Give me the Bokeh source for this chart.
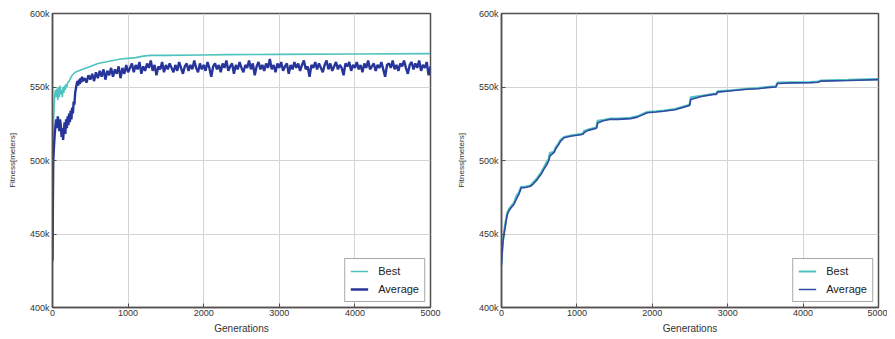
from bokeh.plotting import figure
from bokeh.layouts import row
from bokeh.models import Range1d, FixedTicker, PrintfTickFormatter
from bokeh.embed import file_html
from bokeh.resources import INLINE

# ---------------- data (fitness in thousands of meters) ----------------
x_ticks = [0, 1000, 2000, 3000, 4000, 5000]
y_ticks = [400, 450, 500, 550, 600]
series_names = ["Best", "Average"]

# Left chart: Best
gen_best_l = [0, 5, 10, 20, 30, 40, 50, 60, 70, 80, 90, 100, 110, 120, 130, 140, 150,
              160, 170, 180, 190, 200, 220, 240, 260, 280, 300, 350, 400, 500, 600, 700,
              800, 900, 1000, 1100, 1200, 1300, 1500, 2000, 2300, 3000, 4000, 5000]
best_l = [430, 500, 520, 535, 545, 548, 543, 549, 541, 550, 543, 551, 545, 548, 543, 550,
          546, 551, 548, 552, 550, 553, 554, 556, 558, 559, 560, 561, 562, 564, 566, 567,
          568, 569, 569.5, 570, 571, 571.5, 571.5, 571.8, 572, 572.2, 572.5, 572.7]

# Left chart: Average (sampled generations)
gen_avg_l = [0, 5, 10] + list(range(20, 401, 10)) + list(range(425, 5001, 25))
avg_early_l = [432, 470, 500, 510, 518, 524, 528, 522, 530, 526, 520, 528, 524, 516, 522,
               514, 520, 526, 518, 528, 522, 530, 524, 532, 526, 534, 528, 536, 532, 540,
               538, 546, 549, 552, 554, 551, 555, 552, 556, 553, 557, 554]
avg_mid_l = [556, 553, 558, 555, 559, 554, 560, 556, 561, 557, 562, 555, 561, 558, 563,
             557, 562, 559, 564, 556, 563, 559, 565, 560]
avg_late_l = [
    563, 566, 560, 565, 562, 567, 559, 564, 561, 566,
    563, 568, 561, 565, 558, 564, 562, 567, 560, 565,
    562, 566, 563, 560, 565, 561, 567, 563, 559, 564,
    566, 561, 565, 562, 568, 563, 560, 566, 562, 565,
    561, 567, 563, 557, 564, 566, 562, 565, 560, 566,
    563, 568, 561, 564, 566, 559, 565, 562, 567, 563,
    560, 565, 563, 568, 562, 566, 558, 564, 567, 562,
    565, 561, 566, 563, 569, 562, 565, 560, 566, 563,
    567, 561, 564, 566, 559, 565, 562, 567, 563, 566,
    561, 565, 568, 562, 564, 557, 565, 563, 567, 562,
    566, 563, 560, 565, 568, 562, 566, 561, 564, 567,
    562, 565, 563, 558, 566, 564, 567, 561, 565, 563,
    567, 562, 565, 560, 566, 563, 568, 562, 564, 566,
    561, 565, 563, 567, 562, 557, 565, 566, 563, 568,
    562, 565, 561, 566, 564, 568, 563, 559, 565, 567,
    562, 566, 563, 568, 561, 565, 563, 567, 558, 564,
]
avg_l = avg_early_l + avg_mid_l + avg_late_l

# Right chart
gen_r = [0, 10, 20, 31, 50, 75, 100, 130, 163, 200, 230, 252, 260, 300, 385, 420, 473, 500,
         530, 561, 600, 628, 640, 697, 720, 760, 782, 830, 915, 980, 1048, 1085, 1095, 1150,
         1225, 1260, 1275, 1350, 1446, 1550, 1711, 1800, 1932, 2050, 2150, 2300, 2463, 2495,
         2510, 2650, 2816, 2850, 2865, 3050, 3258, 3400, 3523, 3640, 3660, 3850, 4098, 4200,
         4231, 4600, 5000]
best_r = [430, 440, 446, 450, 457, 464, 467, 469, 471, 476, 478, 481, 482, 482, 483, 485,
          488, 490, 492, 495, 499, 501, 505, 506, 509, 512, 514, 516, 517, 517.5, 518, 518.5,
          520, 521, 522, 522.5, 527, 527.5, 528.5, 528.5, 529, 530, 533, 533.5, 534, 535,
          537.4, 538, 543, 544, 545.4, 545.5, 547, 547.8, 548.8, 549.2, 550, 550.5, 553,
          553.2, 553.3, 553.6, 554.4, 554.8, 555.3]
avg_r = [429, 438, 445, 449, 455, 463, 466, 468, 470, 474, 477, 480, 481.5, 481.5, 482.5,
         484, 487, 489, 491, 494, 497, 500, 503, 505.5, 508, 511, 513, 515.5, 516.5, 517,
         517.5, 518, 519, 520.5, 521.5, 522, 525.5, 527, 528, 528, 528.5, 529.5, 532.5, 533,
         533.5, 534.5, 537, 537.5, 541.5, 543.5, 545, 545, 546.5, 547.5, 548.5, 548.8, 549.6,
         550, 552.4, 552.8, 553, 553.2, 554, 554.4, 555]

BEST_C = "#4fc3bf"
AVG_C = "#27359a"
AVG_C_R = "#2f4ba3"
FONT = "Liberation Sans"
FRAME_C = "#555050"


def make_fig(fw, bl, br):
    p = figure(frame_width=fw, frame_height=294, x_range=Range1d(0, 5000), y_range=Range1d(400, 600),
               output_backend="svg", toolbar_location=None,
               min_border_left=bl, min_border_right=br, min_border_top=13, min_border_bottom=30,
               x_axis_label="Generations", y_axis_label="Fitness[meters]")
    p.outline_line_color = FRAME_C
    p.outline_line_width = 1.5
    p.background_fill_color = "white"
    p.border_fill_color = "white"
    for ax in (p.xaxis[0], p.yaxis[0]):
        ax.axis_line_color = FRAME_C
        ax.axis_line_width = 1.5
        ax.major_tick_in = 4
        ax.major_tick_out = 0
        ax.major_tick_line_color = FRAME_C
        ax.minor_tick_line_color = None
        ax.major_label_text_font = FONT
        ax.major_label_text_font_size = "9px"
        ax.major_label_text_color = "#333333"
        ax.axis_label_text_font = FONT
        ax.axis_label_text_font_style = "normal"
        ax.axis_label_text_color = "#333333"
    p.xaxis[0].ticker = FixedTicker(ticks=x_ticks)
    p.yaxis[0].ticker = FixedTicker(ticks=y_ticks)
    p.yaxis[0].formatter = PrintfTickFormatter(format="%dk")
    p.xaxis[0].major_label_standoff = 2
    p.yaxis[0].major_label_standoff = 3
    p.xaxis[0].axis_label_text_font_size = "10px"
    p.yaxis[0].axis_label_text_font_size = "8px"
    p.xaxis[0].axis_label_standoff = 4
    p.yaxis[0].axis_label_standoff = 10
    p.grid.grid_line_color = "#d4d4d4"
    p.grid.grid_line_width = 1
    return p


def style_legend(p):
    lg = p.legend[0]
    lg.location = "bottom_right"
    lg.margin = 5
    lg.padding = 5
    lg.spacing = 4
    lg.glyph_width = 18
    lg.glyph_height = 14
    lg.label_standoff = 10
    lg.label_text_font = FONT
    lg.label_text_font_size = "11px"
    lg.label_text_color = "#222222"
    lg.border_line_color = FRAME_C
    lg.border_line_width = 1.5
    lg.background_fill_alpha = 1.0


p1 = make_fig(378, 52, 20)
p1.line(gen_best_l, best_l, color=BEST_C, line_width=1.6, legend_label=series_names[0])
p1.line(gen_avg_l, avg_l, color=AVG_C, line_width=2.4, legend_label=series_names[1])
style_legend(p1)

p2 = make_fig(377, 51, 9)
p2.line(gen_r, best_r, color=BEST_C, line_width=2.2, legend_label=series_names[0])
p2.line(gen_r, avg_r, color=AVG_C_R, line_width=1.6, legend_label=series_names[1])
style_legend(p2)

layout = row(p1, p2)
open("out.html", "w").write(file_html(layout, INLINE))
